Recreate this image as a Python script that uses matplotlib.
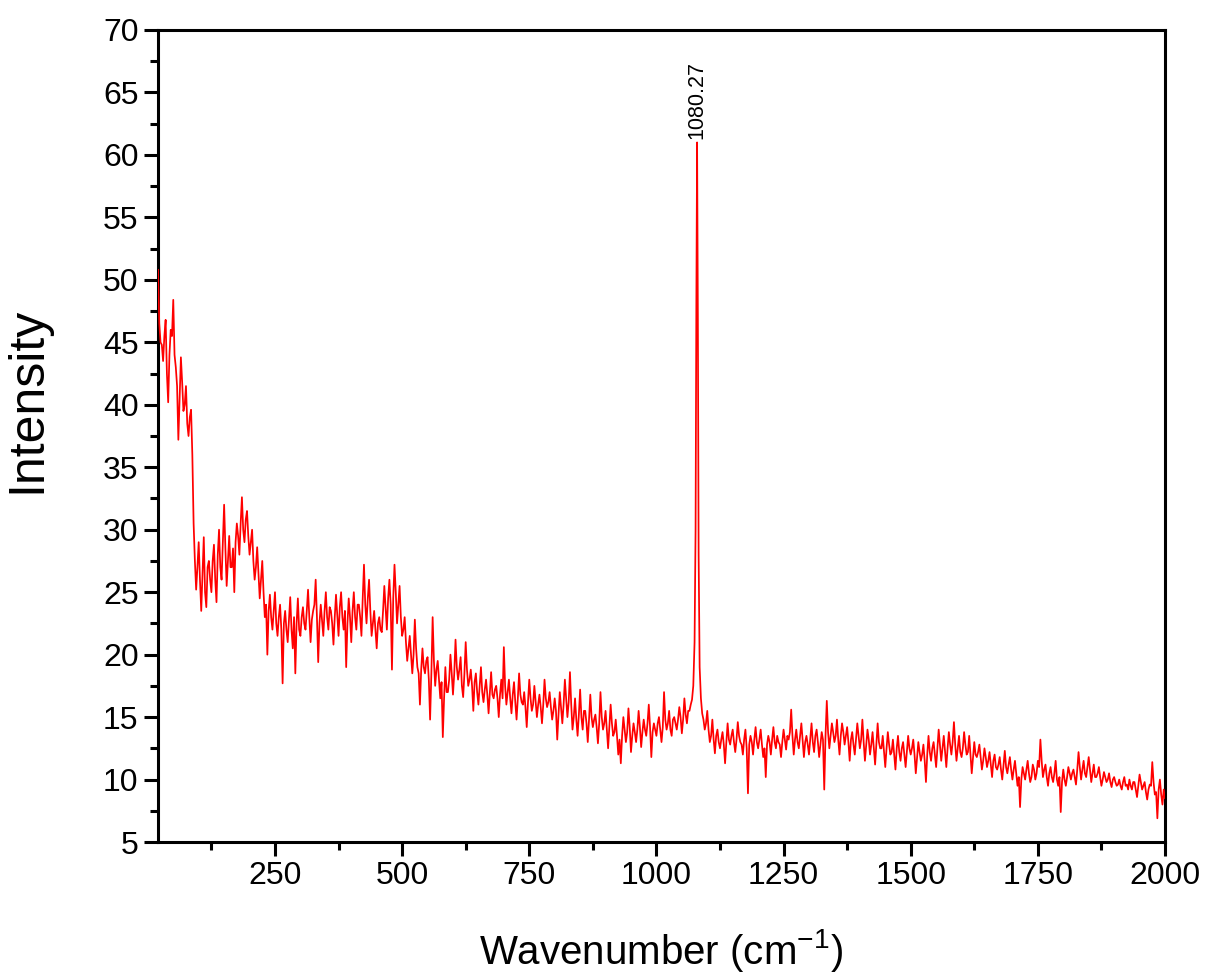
import numpy as np
import matplotlib
matplotlib.use("Agg")
import matplotlib.pyplot as plt
from matplotlib.ticker import MultipleLocator

plt.rcParams['font.family'] = ['Liberation Sans', 'DejaVu Sans']
plt.rcParams['mathtext.fontset'] = 'custom'
plt.rcParams['mathtext.rm'] = 'Liberation Sans'
plt.rcParams['mathtext.it'] = 'Liberation Sans:italic'

# raman spectrum, values every 5 cm-1 from 20 to 2000
wavenumber = np.arange(20, 2001, 5)
intensity = [
    # 20 - 95
    50.8, 45.0, 43.5, 46.8, 40.2, 46.0, 48.4, 43.0, 37.2, 43.8, 39.5, 41.5, 37.5, 39.6, 30.5, 25.2,
    # 100 - 195
    29.0, 23.5, 29.4, 23.8, 27.5, 25.0, 28.8, 24.2, 30.0, 26.0, 32.0, 25.5, 29.5, 27.0, 25.0, 30.5, 28.0, 32.6, 29.0, 31.5,
    # 200 - 295
    28.0, 30.0, 26.0, 28.6, 24.5, 27.5, 23.0, 20.0, 24.8, 22.0, 25.0, 21.5, 24.0, 17.7, 23.5, 21.0, 24.6, 20.5, 18.5, 24.5,
    # 300 - 395
    21.5, 23.8, 22.0, 25.2, 21.0, 23.5, 26.0, 19.4, 24.0, 21.5, 25.0, 22.0, 23.5, 20.8, 24.8, 21.5, 25.0, 22.0, 19.0, 24.5,
    # 400 - 495
    21.0, 25.0, 22.0, 24.0, 21.5, 27.2, 22.5, 26.0, 21.5, 23.5, 20.5, 23.0, 21.8, 25.5, 22.0, 26.0, 18.8, 27.2, 22.5, 25.5,
    # 500 - 595
    21.5, 23.0, 19.5, 21.5, 18.5, 22.8, 19.0, 16.0, 20.5, 18.5, 19.8, 14.8, 23.0, 17.5, 19.5, 16.5, 13.4, 19.0, 17.0, 20.0,
    # 600 - 695
    16.8, 21.2, 18.0, 19.8, 16.6, 21.0, 17.5, 18.8, 15.5, 18.5, 16.0, 19.0, 16.2, 18.0, 15.3, 18.6, 16.5, 17.5, 15.0, 18.0,
    # 700 - 795
    20.6, 16.0, 18.0, 15.3, 17.8, 14.8, 18.5, 16.2, 17.0, 14.2, 18.0, 15.5, 17.5, 15.0, 16.8, 14.5, 18.0, 15.8, 17.0, 14.8,
    # 800 - 895
    16.5, 13.2, 17.0, 14.5, 18.0, 15.0, 18.6, 14.0, 16.5, 13.5, 17.2, 14.0, 15.5, 13.0, 16.8, 14.2, 15.2, 12.9, 17.0, 14.0,
    # 900 - 995
    15.5, 12.5, 16.0, 13.5, 14.8, 12.0, 11.3, 15.0, 13.0, 15.7, 12.2, 14.5, 13.0, 15.5, 12.6, 14.8, 13.5, 16.0, 11.8, 14.5,
    # 1000 - 1095
    13.5, 15.0, 13.0, 17.0, 14.0, 15.5, 13.5, 15.0, 14.0, 15.8, 13.7, 16.5, 14.5, 15.5, 16.4, 21.0, 61.0, 19.0, 15.3, 14.0,
    # 1100 - 1195
    15.5, 13.0, 14.8, 12.1, 14.0, 12.5, 13.8, 11.3, 14.5, 12.8, 14.0, 12.2, 14.6, 13.0, 12.0, 14.0, 8.9, 13.5, 12.0, 14.2,
    # 1200 - 1295
    12.5, 14.0, 11.8, 10.2, 13.5, 12.0, 14.2, 12.5, 13.0, 11.8, 14.0, 12.4, 13.2, 15.6, 12.0, 14.0, 12.5, 14.5, 11.8, 13.5,
    # 1300 - 1395
    12.0, 14.5, 12.2, 14.0, 11.8, 13.8, 9.2, 16.3, 12.5, 14.5, 13.0, 14.8, 12.0, 14.5, 12.8, 14.2, 11.5, 13.8, 12.0, 14.5,
    # 1400 - 1495
    12.5, 14.8, 11.5, 14.0, 12.0, 13.8, 11.2, 14.5, 12.5, 13.5, 11.0, 13.8, 12.0, 13.2, 10.8, 13.5, 11.5, 13.0, 11.0, 13.5,
    # 1500 - 1595
    12.0, 13.2, 10.5, 13.0, 11.5, 12.8, 9.8, 13.5, 11.5, 13.0, 11.0, 14.0, 11.5, 13.5, 11.0, 13.8, 12.0, 14.6, 11.5, 13.5,
    # 1600 - 1695
    11.8, 13.8, 12.0, 13.5, 10.5, 13.0, 11.8, 12.8, 10.8, 12.5, 11.0, 12.2, 10.2, 12.0, 10.8, 11.8, 10.0, 12.3, 10.5, 11.8,
    # 1700 - 1795
    10.0, 11.5, 9.5, 7.8, 11.0, 10.0, 11.5, 9.8, 11.2, 10.0, 11.5, 13.2, 10.2, 11.2, 9.5, 11.0, 9.8, 11.5, 9.5, 7.4,
    # 1800 - 1895
    10.8, 9.5, 11.0, 10.0, 10.8, 9.6, 12.2, 10.0, 11.5, 10.2, 11.8, 9.8, 11.2, 10.2, 11.0, 9.5, 10.6, 9.8, 10.5, 9.4,
    # 1900 - 2000
    10.2, 9.5, 10.0, 9.2, 10.2, 9.6, 10.0, 9.2, 9.8, 8.6, 10.4, 9.2, 9.8, 8.4, 9.6, 11.4, 8.8, 6.9, 10.0, 8.0, 8.5,
]

# readings halfway between the points above (22.5, 27.5, ... 1997.5), mostly mid-band
wavenumber_mid = np.arange(22.5, 2000, 5)
intensity_mid = [
    # 22.5 - 97.5
    46.5, 44.8, 45.5, 42.5, 44.0, 45.5, 44.0, 41.5, 40.5, 41.8, 40.0, 38.5, 39.0, 36.0, 27.5, 27.0,
    # 102.5 - 197.5
    26.0, 26.5, 25.0, 27.0, 26.0, 27.5, 26.0, 28.0, 27.0, 29.0, 28.5, 27.5, 27.0, 28.5, 29.0, 29.5, 30.5, 30.0, 30.8, 29.5,
    # 202.5 - 297.5
    29.0, 27.5, 27.0, 26.5, 26.0, 25.0, 24.0, 23.5, 23.0, 23.5, 22.5, 23.0, 22.0, 22.5, 22.0, 22.8, 22.0, 23.0, 22.5, 22.0,
    # 302.5 - 397.5
    23.0, 22.5, 23.5, 23.0, 22.8, 24.0, 23.0, 22.5, 22.8, 23.5, 23.0, 23.8, 22.5, 23.0, 23.2, 23.8, 23.0, 23.5, 22.5, 23.0,
    # 402.5 - 497.5
    23.5, 23.0, 24.0, 23.0, 24.5, 24.0, 24.5, 23.5, 22.5, 22.0, 22.5, 22.0, 23.5, 23.8, 24.5, 24.0, 24.5, 25.0, 24.0, 23.0,
    # 502.5 - 597.5
    22.0, 21.0, 20.5, 20.0, 20.0, 20.5, 18.5, 18.8, 19.0, 19.5, 18.0, 18.5, 19.5, 18.8, 18.0, 17.8, 16.5, 17.0, 18.0, 18.5,
    # 602.5 - 697.5
    18.5, 19.0, 18.8, 17.5, 18.5, 18.8, 18.0, 17.5, 17.8, 17.0, 17.5, 17.0, 17.2, 16.8, 17.0, 16.8, 17.2, 16.5, 16.8, 16.5,
    # 702.5 - 797.5
    17.5, 17.0, 16.5, 16.8, 16.2, 16.5, 16.8, 16.0, 15.8, 16.2, 16.5, 16.0, 16.2, 16.0, 15.8, 16.0, 16.5, 16.2, 15.8, 15.5,
    # 802.5 - 897.5
    15.5, 15.2, 15.8, 16.0, 16.5, 16.2, 16.0, 15.0, 14.8, 15.2, 15.0, 15.5, 14.5, 14.8, 15.0, 14.8, 14.2, 14.5, 15.0, 14.5,
    # 902.5 - 997.5
    14.0, 14.2, 14.5, 13.8, 13.5, 13.2, 13.5, 14.0, 13.8, 14.2, 13.5, 13.8, 14.0, 14.2, 13.8, 14.0, 14.5, 14.2, 13.8, 14.0,
    # 1002.5 - 1097.5
    14.5, 14.0, 14.2, 14.8, 14.5, 14.0, 14.8, 14.5, 14.8, 15.0, 14.8, 15.2, 15.5, 16.0, 17.5, 36.0, 34.0, 16.5, 14.8, 14.5,
    # 1102.5 - 1197.5
    14.0, 13.5, 13.2, 13.5, 13.0, 13.2, 12.8, 13.0, 13.2, 13.5, 13.0, 13.2, 13.5, 12.8, 13.2, 12.5, 12.8, 13.0, 13.2, 13.0,
    # 1202.5 - 1297.5
    13.2, 12.8, 12.5, 12.8, 13.0, 13.2, 13.0, 13.5, 12.8, 13.0, 13.2, 13.5, 13.8, 13.5, 13.2, 13.0, 13.5, 13.2, 13.0, 12.8,
    # 1302.5 - 1397.5
    13.2, 13.0, 13.5, 13.0, 12.8, 13.2, 13.5, 13.8, 13.5, 13.8, 13.5, 13.2, 13.5, 13.8, 13.5, 13.0, 13.2, 12.8, 13.2, 13.5,
    # 1402.5 - 1497.5
    13.2, 13.0, 12.8, 13.2, 12.8, 12.5, 12.8, 13.0, 12.5, 12.2, 12.5, 12.8, 12.2, 12.0, 12.5, 12.2, 12.5, 12.0, 12.2, 12.5,
    # 1502.5 - 1597.5
    12.5, 12.0, 11.8, 12.2, 12.0, 11.5, 12.0, 12.2, 12.5, 12.0, 12.5, 12.8, 12.5, 12.2, 12.5, 12.8, 13.0, 12.8, 12.5, 12.2,
    # 1602.5 - 1697.5
    12.5, 12.8, 12.2, 12.0, 11.8, 12.0, 12.2, 11.8, 11.5, 11.8, 11.5, 11.2, 11.5, 11.0, 11.2, 10.8, 11.2, 11.0, 11.2, 10.8,
    # 1702.5 - 1797.5
    10.8, 10.5, 10.2, 10.0, 10.5, 10.8, 10.5, 10.2, 10.8, 10.5, 11.0, 11.5, 10.8, 10.2, 10.5, 10.2, 10.5, 10.0, 10.2, 9.8,
    # 1802.5 - 1897.5
    10.0, 10.2, 10.5, 10.5, 10.2, 10.8, 11.0, 10.8, 10.5, 11.0, 10.8, 10.5, 10.2, 10.5, 10.2, 10.0, 10.2, 10.0, 9.8, 10.0,
    # 1902.5 - 1997.5
    9.8, 9.6, 9.5, 9.8, 9.5, 9.2, 9.5, 9.8, 9.2, 9.5, 9.8, 9.5, 9.0, 9.2, 9.5, 9.8, 9.0, 9.2, 8.8, 9.2,
]

# extra points on the flanks of the sharp band
peak_x = [1077, 1078.5, 1081.5, 1083]
peak_y = [30.0, 48.0, 47.0, 28.0]
peak_pos = 1080.27
peak_label = "1080.27"

x = np.concatenate([wavenumber, wavenumber_mid, peak_x])
y = np.concatenate([intensity, intensity_mid, peak_y])
order = np.argsort(x)
x, y = x[order], y[order]

fig = plt.figure(figsize=(12.08, 9.74), dpi=100)
ax = fig.add_axes([0.1308, 0.1355, 0.9644 - 0.1308, 0.9692 - 0.1355])

ax.plot(x, y, color='#ff0000', lw=1.25, zorder=3)

ax.set_xlim(20, 2000)
ax.set_ylim(5, 70)
ax.xaxis.set_major_locator(MultipleLocator(250))
ax.xaxis.set_minor_locator(MultipleLocator(125))
ax.yaxis.set_major_locator(MultipleLocator(5))
ax.yaxis.set_minor_locator(MultipleLocator(2.5))

for s in ax.spines.values():
    s.set_linewidth(2.2)
ax.tick_params(which='major', direction='out', length=10, width=2.2, labelsize=23, pad=4)
ax.tick_params(which='minor', direction='out', length=5.5, width=2.2)

ax.set_xlabel(r'Wavenumber (cm$^{\mathrm{-1}}$)', fontsize=29)
ax.set_ylabel('Intensity', fontsize=36)
ax.xaxis.set_label_coords(0.5, -0.105)
ax.yaxis.set_label_coords(-0.107, 0.545)

ax.text(peak_pos, 61.3, peak_label, rotation=90, ha='center', va='bottom', fontsize=15.5)

fig.savefig('out.png', dpi=100)
